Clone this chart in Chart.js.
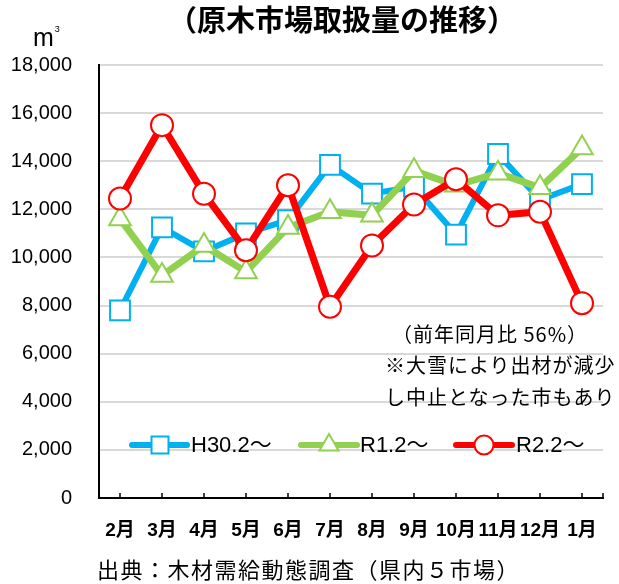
<!DOCTYPE html>
<html lang="ja">
<head>
<meta charset="utf-8">
<script src="https://cdn.jsdelivr.net/npm/chart.js@4"></script>
<style>
    body { margin: 0; background: #fff; }
    #wrap { position: relative; width: 619px; height: 584px; background: #fff; overflow: hidden; }
    #chart { position: absolute; left: 0; top: 0; }
    .txt { position: absolute; white-space: nowrap; color: #000; font-family: "Liberation Sans", "Noto Sans CJK JP", sans-serif; }
    .jp { font-family: "Noto Sans CJK JP", sans-serif; }
    #title { left: 168px; top: 1px; font-size: 29px; font-weight: bold; line-height: 34px; }
    #unit { left: 33px; top: 15px; font-size: 25px; line-height: 28px; }
    #unit sup { font-size: 9px; vertical-align: 14px; margin-left: 1px; }
    .note { font-size: 20px; line-height: 24px; letter-spacing: 1px; }
    .legend-label { font-size: 22px; line-height: 26px; top: 432px; }
    #source { left: 97px; top: 554px; font-size: 22px; line-height: 28px; letter-spacing: 1.5px; }
</style>
</head>
<body>
<div id="wrap">
    <canvas id="chart" width="619" height="584"></canvas>
    <div id="title" class="txt jp">（原木市場取扱量の推移）</div>
    <div id="unit" class="txt">m<sup>3</sup></div>
    <div class="txt jp note" style="left:392px; top:322px;">（前年同月比 56%）</div>
    <div class="txt jp note" style="left:385px; top:353px;">※大雪により出材が減少</div>
    <div class="txt jp note" style="left:385px; top:385px;">し中止となった市もあり</div>
    <div class="txt legend-label" style="left:191px;">H30.2～</div>
    <div class="txt legend-label" style="left:360px;">R1.2～</div>
    <div class="txt legend-label" style="left:516px;">R2.2～</div>
    <div id="source" class="txt jp">出典：木材需給動態調査（県内５市場）</div>
</div>
<script>
// data (m3)
const months = ["2月", "3月", "4月", "5月", "6月", "7月", "8月", "9月", "10月", "11月", "12月", "1月"];
const seriesNames = ["H30.2～", "R1.2～", "R2.2～"];
const h30Values = [7800, 11250, 10250, 11000, 11550, 13850, 12650, 12950, 10950, 14300, 12400, 13050];
const r1Values = [11600, 9250, 10500, 9400, 11250, 11900, 11750, 13600, 13000, 13500, 12900, 14550];
const r2Values = [12450, 15500, 12650, 10300, 13000, 7950, 10500, 12200, 13250, 11750, 11900, 8100];
const yMin = 0;
const yMax = 18000;
const yStep = 2000;

const BLUE = "#00B0F0";
const GREEN = "#92D050";
const RED = "#FF0000";

// line + marker legend, text is HTML
const legendMarks = [
    { x1: 132, x2: 187, cx: 160, color: BLUE, style: "rect", radius: 12, width: 6 },
    { x1: 301, x2: 357, cx: 329, color: GREEN, style: "triangle", radius: 11, width: 6 },
    { x1: 456, x2: 512, cx: 484, color: RED, style: "circle", radius: 9.5, width: 6 },
];

const legendPlugin = {
    id: "lineLegend",
    afterDraw(chart) {
        const ctx = chart.ctx;
        const y = 445;
        ctx.save();
        legendMarks.forEach((m) => {
            ctx.strokeStyle = m.color;
            ctx.lineWidth = m.width;
            ctx.lineCap = "round";
            ctx.beginPath();
            ctx.moveTo(m.x1, y);
            ctx.lineTo(m.x2, y);
            ctx.stroke();
            ctx.fillStyle = "#fff";
            ctx.lineWidth = 2;
            Chart.helpers.drawPoint(ctx, { pointStyle: m.style, radius: m.radius, rotation: 0, borderWidth: 2 }, m.cx, y);
        });
        ctx.restore();
    },
};

// small inward tick marks on the x axis
const xTickPlugin = {
    id: "xTicks",
    beforeDatasetsDraw(chart) {
        const { ctx, chartArea, scales } = chart;
        ctx.save();
        ctx.strokeStyle = "#000";
        ctx.lineWidth = 1.5;
        months.forEach((m, i) => {
            const x = scales.x.getPixelForValue(i);
            ctx.beginPath();
            ctx.moveTo(x, chartArea.bottom);
            ctx.lineTo(x, chartArea.bottom - 5);
            ctx.stroke();
        });
        ctx.beginPath();
        ctx.moveTo(chartArea.right, chartArea.bottom);
        ctx.lineTo(chartArea.right, chartArea.bottom - 5);
        ctx.stroke();
        ctx.restore();
    },
};

const ctx = document.getElementById("chart").getContext("2d");

new Chart(ctx, {
    type: "line",
    data: {
        labels: months,
        datasets: [
            {
                label: seriesNames[0],
                data: h30Values,
                borderColor: BLUE,
                borderWidth: 6,
                pointStyle: "rect",
                pointRadius: 14,
                pointBorderWidth: 2,
                pointBackgroundColor: "#fff",
                pointBorderColor: BLUE,
                order: 3,
            },
            {
                label: seriesNames[1],
                data: r1Values,
                borderColor: GREEN,
                borderWidth: 7,
                pointStyle: "triangle",
                pointRadius: 12.5,
                pointBorderWidth: 2,
                pointBackgroundColor: "#fff",
                pointBorderColor: GREEN,
                order: 2,
            },
            {
                label: seriesNames[2],
                data: r2Values,
                borderColor: RED,
                borderWidth: 7,
                pointStyle: "circle",
                pointRadius: 11,
                pointBorderWidth: 2,
                pointBackgroundColor: "#fff",
                pointBorderColor: RED,
                order: 1,
            },
        ],
    },
    options: {
        responsive: false,
        animation: false,
        clip: false,
        layout: { padding: { top: 65, right: 11, left: 0, bottom: 0 } },
        elements: { line: { tension: 0, fill: false } },
        plugins: {
            legend: { display: false },
            tooltip: { enabled: false },
            title: { display: false },
        },
        scales: {
            x: {
                offset: true,
                grid: { display: false },
                border: { display: true, color: "#000", width: 2 },
                ticks: {
                    color: "#000",
                    font: { family: "'Liberation Sans', 'Noto Sans CJK JP', sans-serif", size: 19, weight: "bold" },
                    padding: 13,
                    maxRotation: 0,
                    autoSkip: false,
                },
                afterFit(scale) {
                    scale.height = 86;
                },
            },
            y: {
                min: yMin,
                max: yMax,
                grid: {
                    color: (c) => (c.tick && c.tick.value === 0 ? "rgba(0,0,0,0)" : "#D9D9D9"),
                    lineWidth: 2,
                    drawTicks: false,
                },
                border: { display: true, color: "#000", width: 2 },
                ticks: {
                    stepSize: yStep,
                    color: "#000",
                    padding: 27,
                    font: { family: "'Liberation Sans', sans-serif", size: 20 },
                    callback: (v) => v.toLocaleString("en-US"),
                },
                afterFit(scale) {
                    scale.width = 99;
                },
            },
        },
    },
    plugins: [xTickPlugin, legendPlugin],
});
</script>
</body>
</html>
